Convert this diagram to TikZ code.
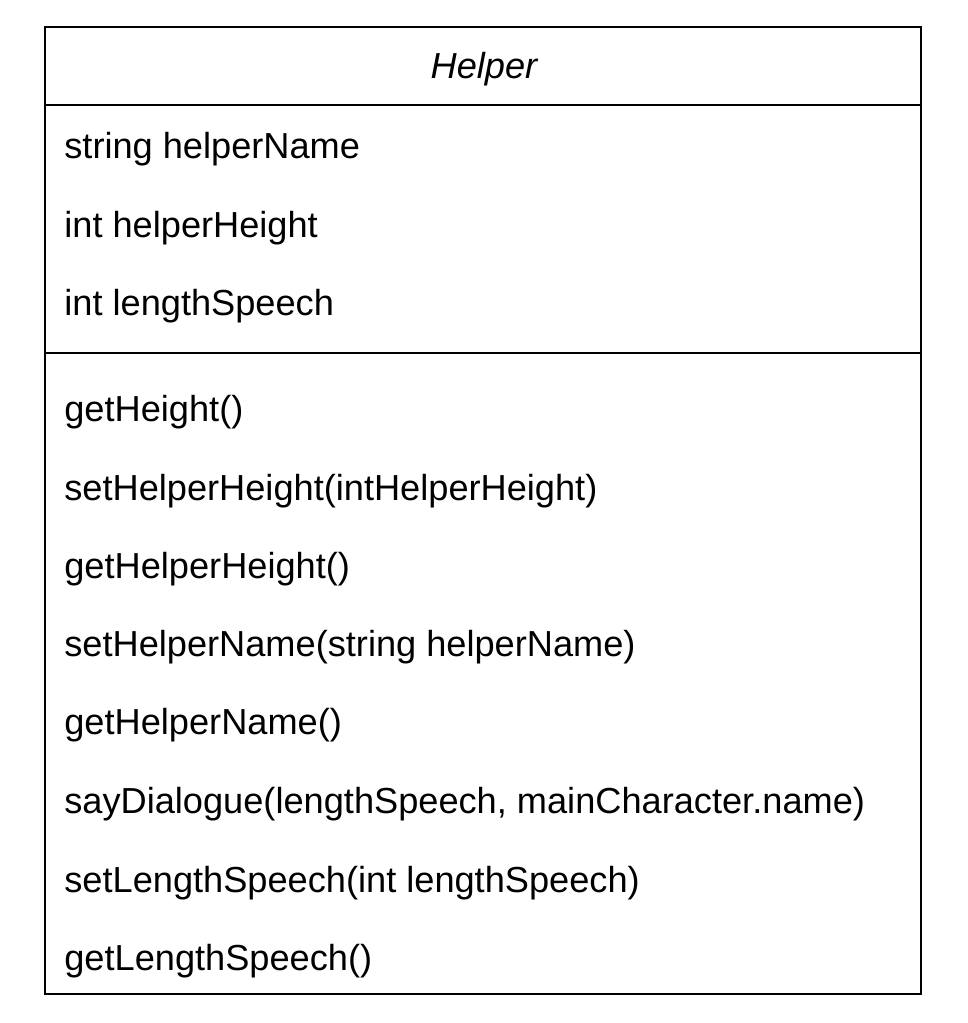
\documentclass[tikz,border=0pt]{standalone}
\usepackage{fontspec}
\setmainfont{Liberation Sans}
\usepackage{xcolor}
\usepackage{tikz}
\usetikzlibrary{positioning}
\definecolor{umlline}{HTML}{000000}
\tikzset{
  umlbox/.style ={draw=umlline,line width=1.5pt},
  umlsep/.style ={draw=umlline,line width=1.5pt},
  member/.style ={anchor=base west,inner sep=0pt,font=\fontsize{20.6pt}{23pt}\selectfont},
  classname/.style={anchor=base,inner sep=0pt,font=\fontsize{20.6pt}{23pt}\selectfont\itshape}
}
\begin{document}
\begin{tikzpicture}[x=0.02cm,y=-0.02cm]
        \useasboundingbox (0,0) rectangle (967,1023);
        % class frame
        \draw[umlbox] (45,27) rectangle (921,994);
        \coordinate (hdrL) at (45,105);
        \coordinate (hdrR) at (921,105);
        \coordinate (attL) at (45,353);
        \coordinate (attR) at (921,353);
        \draw[umlsep] (hdrL) -- (hdrR);
        \draw[umlsep] (attL) -- (attR);
        \node[classname] (cls) at (484,79) {Helper};
        % attributes
        \node[member] (att1) at (64,159) {string helperName};
        \node[member] (att2) at (64,238) {int helperHeight};
        \node[member] (att3) at (64,316) {int lengthSpeech};
        % methods
        \node[member] (op1) at (64,421) {getHeight()};
        \node[member] (op2) at (64,500) {setHelperHeight(intHelperHeight)};
        \node[member] (op3) at (64,578) {getHelperHeight()};
        \node[member] (op4) at (64,656) {setHelperName(string helperName)};
        \node[member] (op5) at (64,734) {getHelperName()};
        \node[member] (op6) at (64,813) {sayDialogue(lengthSpeech, mainCharacter.name)};
        \node[member] (op7) at (64,892) {setLengthSpeech(int lengthSpeech)};
        \node[member] (op8) at (64,970) {getLengthSpeech()};
      \end{tikzpicture}
\end{document}
